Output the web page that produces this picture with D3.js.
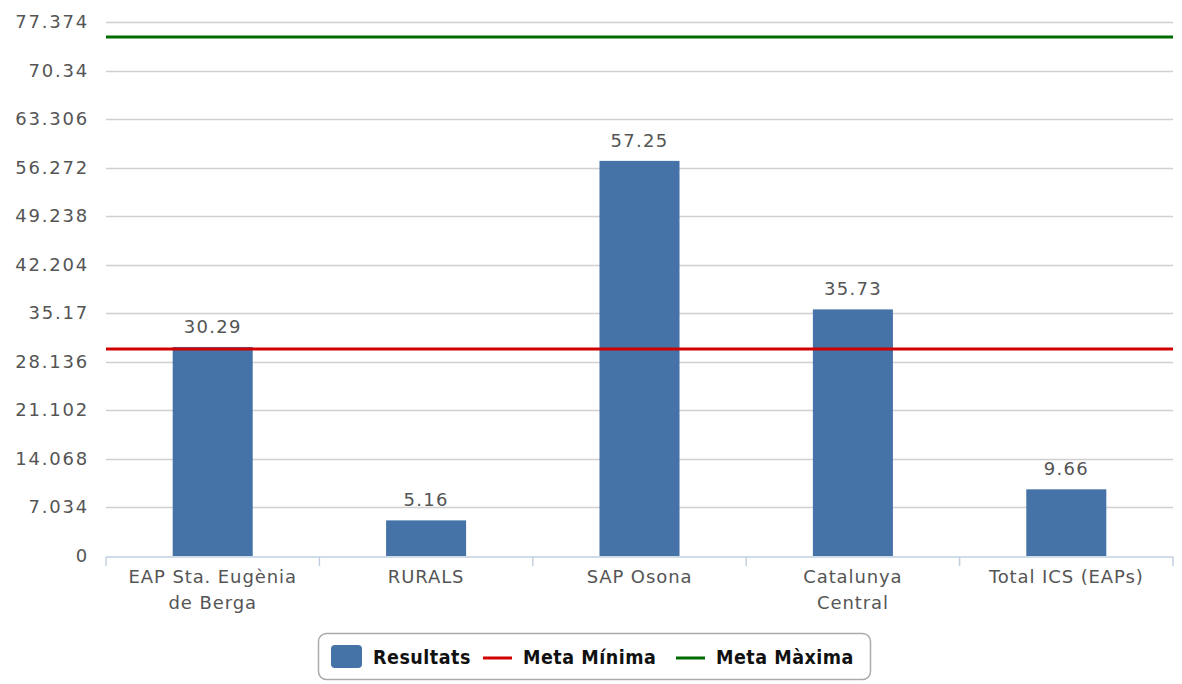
<!DOCTYPE html>
<html><head><meta charset="utf-8">
<script src="https://cdn.jsdelivr.net/npm/d3@7"></script>
<style>body{margin:0;background:#fff;} svg{display:block;font-family:"DejaVu Sans",Verdana,sans-serif;}</style>
</head><body>
<svg id="c" width="1182" height="684"></svg>
<script>
const categories = [["EAP Sta. Eugènia","de Berga"],["RURALS"],["SAP Osona"],["Catalunya","Central"],["Total ICS (EAPs)"]];
const resultats = [30.29, 5.16, 57.25, 35.73, 9.66];
const metaMinima = 30;
const metaMaxima = 75.2;
const yTicks = [0, 7.034, 14.068, 21.102, 28.136, 35.17, 42.204, 49.238, 56.272, 63.306, 70.34, 77.374];
const legendLabels = ["Resultats", "Meta Mínima", "Meta Màxima"];
const colors = {bar:"#4572a7", min:"#d00000", max:"#006b00"};

const svg = d3.select("#c");
const m = {l:106, r:1173, t:22, b:556};
const x = d3.scaleBand().domain(d3.range(categories.length)).range([m.l, m.r]).paddingInner(0.625).paddingOuter(0.3125);
const xb = d3.scaleBand().domain(d3.range(categories.length)).range([m.l, m.r]);
const y = d3.scaleLinear().domain([0, 77.374]).range([m.b, m.t]);

// gridlines
svg.append("g").selectAll("line").data(yTicks.slice(1)).join("line")
  .attr("x1", m.l).attr("x2", m.r).attr("y1", d=>Math.round(y(d))+0.5).attr("y2", d=>Math.round(y(d))+0.5)
  .attr("stroke","#d0d0d0").attr("stroke-width",1.5);

// y tick labels
svg.append("g").selectAll("text").data(yTicks).join("text")
  .attr("x", 89).attr("y", d=>y(d)+6).attr("text-anchor","end")
  .attr("font-size",18).attr("letter-spacing",1.8).attr("fill","#555").text(d=>String(d));

// bars
svg.append("g").selectAll("rect").data(resultats).join("rect")
  .attr("x",(d,i)=>x(i)).attr("width",x.bandwidth())
  .attr("y",d=>y(d)).attr("height",d=>y(0)-y(d)).attr("fill",colors.bar);

// value labels
svg.append("g").selectAll("text").data(resultats).join("text")
  .attr("x",(d,i)=>x(i)+x.bandwidth()/2).attr("y",d=>y(d)-14).attr("text-anchor","middle")
  .attr("font-size",18).attr("letter-spacing",1.3).attr("fill","#555").text(d=>d.toFixed(2));

// x axis line and ticks
svg.append("line").attr("x1",m.l).attr("x2",m.r).attr("y1",m.b+1).attr("y2",m.b+1).attr("stroke","#c0d0e0").attr("stroke-width",1.5);
const bounds = d3.range(categories.length+1).map(i=> i<categories.length ? xb(i) : xb(categories.length-1)+xb.bandwidth());
svg.append("g").selectAll("line").data(bounds).join("line")
  .attr("x1",d=>d).attr("x2",d=>d).attr("y1",m.b+1).attr("y2",m.b+10).attr("stroke","#c0d0e0").attr("stroke-width",1.5);

// category labels
const cl = svg.append("g").selectAll("text").data(categories).join("text")
  .attr("x",(d,i)=>xb(i)+xb.bandwidth()/2).attr("y",583).attr("text-anchor","middle")
  .attr("font-size",18).attr("letter-spacing",0.9).attr("fill","#555");
cl.each(function(d){
  d3.select(this).selectAll("tspan").data(d).join("tspan")
    .attr("x", d3.select(this).attr("x")).attr("dy",(t,j)=>j?26:0).text(t=>t);
});

// meta lines
svg.append("line").attr("x1",m.l).attr("x2",m.r).attr("y1",y(metaMinima)).attr("y2",y(metaMinima)).attr("stroke",colors.min).attr("stroke-width",3);
svg.append("line").attr("x1",m.l).attr("x2",m.r).attr("y1",y(metaMaxima)).attr("y2",y(metaMaxima)).attr("stroke",colors.max).attr("stroke-width",3);

// legend
const lg = svg.append("g");
lg.append("rect").attr("x",318.5).attr("y",633.5).attr("width",552).attr("height",46).attr("rx",8)
  .attr("fill","#fff").attr("stroke","#aaa").attr("stroke-width",1.5);
lg.append("rect").attr("x",331).attr("y",645).attr("width",31).attr("height",23).attr("rx",4).attr("fill",colors.bar);
lg.append("line").attr("x1",483).attr("x2",512).attr("y1",658).attr("y2",658).attr("stroke",colors.min).attr("stroke-width",3);
lg.append("line").attr("x1",676).attr("x2",705).attr("y1",658).attr("y2",658).attr("stroke",colors.max).attr("stroke-width",3);
const lx = [373, 523, 716];
lg.selectAll("text.l").data(legendLabels).join("text").attr("class","l")
  .attr("x",(d,i)=>lx[i]).attr("y",664).attr("font-size",19.5).attr("letter-spacing",0.5).attr("font-weight","bold")
  .attr("fill","#111").attr("font-family","'Liberation Sans Narrow','DejaVu Sans Condensed',sans-serif").text(d=>d);
</script>
</body></html>
